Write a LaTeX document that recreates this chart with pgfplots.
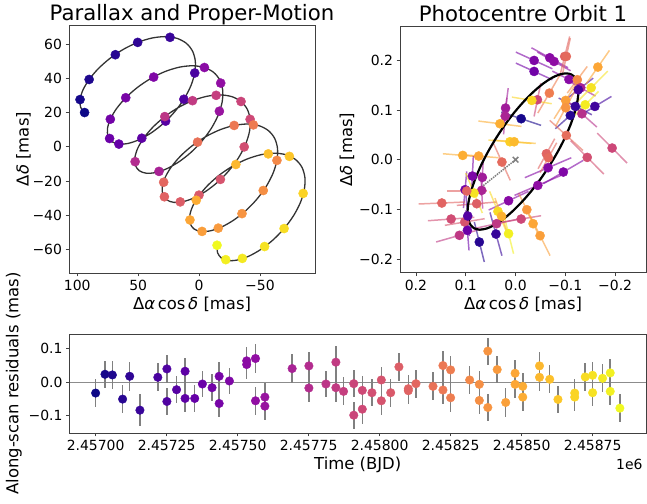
\documentclass[border=0pt]{standalone}
\usepackage{pgfplots}
\usepackage{pgfplotstable}
\pgfplotsset{compat=1.18}
\usepackage{fontspec}
\setmainfont{DejaVu Sans}

\pgfplotsset{
  colormap={plasma}{rgb255=(13,8,135) rgb255=(65,4,157) rgb255=(106,0,168) rgb255=(143,13,164) rgb255=(177,42,144) rgb255=(204,71,120) rgb255=(225,100,98) rgb255=(242,132,75) rgb255=(252,166,54) rgb255=(252,206,37) rgb255=(240,249,33)},
  myaxis/.style={scale only axis, anchor=south west,
    axis line style={black!75, line width=0.8pt},
    tick align=outside, tick pos=left, major tick length=3.5pt,
    every tick/.style={black!75, line width=0.8pt},
    tick label style={font=\fontsize{14}{16}\selectfont},
    label style={font=\fontsize{16.5}{19}\selectfont},
    title style={font=\fontsize{21.3}{25}\selectfont, anchor=base, yshift=-1pt},
    point meta min=0, point meta max=1846, colormap name=plasma,
    clip=true},
  dots/.style={scatter, only marks, mark=*, mark size=4.6pt,
    scatter/use mapped color={draw=mapped color, fill=mapped color}},
}

% parallax + proper motion model curve
\pgfplotstableread{
x y
94.01 20.03
97.24 23.11
97.73 27.59
95.37 33.14
90.26 39.32
82.70 45.65
73.13 51.66
62.13 56.90
50.40 60.95
38.67 63.49
27.68 64.32
18.10 63.30
10.54 60.47
5.43 55.97
3.08 50.07
3.56 43.10
6.79 35.52
12.47 27.77
20.18 20.34
29.30 13.68
39.15 8.21
49.00 4.25
58.13 2.02
65.83 1.62
71.51 3.03
74.74 6.11
75.23 10.59
72.87 16.14
67.76 22.32
60.20 28.65
50.63 34.66
39.63 39.90
27.90 43.95
16.17 46.49
5.18 47.32
-4.40 46.30
-11.96 43.47
-17.07 38.97
-19.42 33.07
-18.94 26.10
-15.71 18.52
-10.03 10.77
-2.32 3.34
6.80 -3.32
16.65 -8.79
26.50 -12.75
35.63 -14.98
43.33 -15.38
49.01 -13.97
52.24 -10.89
52.73 -6.41
50.37 -0.86
45.26 5.32
37.70 11.65
28.13 17.66
17.13 22.90
5.40 26.95
-6.33 29.49
-17.32 30.32
-26.90 29.30
-34.46 26.47
-39.57 21.97
-41.92 16.07
-41.44 9.10
-38.21 1.52
-32.53 -6.23
-24.82 -13.66
-15.70 -20.32
-5.85 -25.79
4.00 -29.75
13.13 -31.98
20.83 -32.38
26.51 -30.97
29.74 -27.89
30.23 -23.41
27.87 -17.86
22.76 -11.68
15.20 -5.35
5.63 0.66
-5.37 5.90
-17.10 9.95
-28.83 12.49
-39.82 13.32
-49.40 12.30
-56.96 9.47
-62.07 4.97
-64.42 -0.93
-63.94 -7.90
-60.71 -15.48
-55.03 -23.23
-47.32 -30.66
-38.20 -37.32
-28.35 -42.79
-18.50 -46.75
-9.37 -48.98
-1.67 -49.38
4.01 -47.97
7.24 -44.89
7.73 -40.41
5.37 -34.86
0.26 -28.68
-7.30 -22.35
-16.87 -16.34
-27.87 -11.10
-39.60 -7.05
-51.33 -4.51
-62.32 -3.68
-71.90 -4.70
-79.46 -7.53
-84.57 -12.03
-86.92 -17.93
-86.44 -24.90
-83.21 -32.48
-77.53 -40.23
-69.82 -47.66
-60.70 -54.32
-50.85 -59.79
-41.00 -63.75
-31.87 -65.98
-24.17 -66.38
-18.49 -64.97
-15.26 -61.89
-14.77 -57.41
}\pmcurve

\pgfplotstableread{
x y t
94.01 20.03 0
97.73 27.59 30
90.26 39.32 61
68.73 53.76 97
50.40 60.95 121
23.85 63.91 157
3.56 43.10 227
12.47 27.77 257
27.48 15.01 284
47.03 5.04 315
65.83 1.62 348
73.45 4.88 372
72.87 16.14 409
60.20 28.65 439
37.28 40.71 472
-4.40 46.30 530
-17.78 37.20 564
-16.68 20.79 601
32.89 -14.31 691
52.49 -8.65 749
28.13 17.66 817
5.40 26.95 847
-14.02 30.07 873
-34.46 26.47 908
-41.92 16.07 938
-37.07 -0.03 971
-17.52 -18.99 1011
0.06 -28.17 1038
15.44 -32.10 1064
28.45 -29.12 1098
29.05 -20.64 1127
1.23 2.76 1186
-28.83 12.49 1226
-44.61 12.81 1248
-63.94 -7.90 1316
-52.72 -25.46 1351
-35.25 -38.96 1381
-15.76 -47.42 1411
-2.44 -49.34 1436
7.49 -42.65 1475
2.30 -31.15 1507
-30.22 -10.29 1561
-56.83 -4.10 1596
-74.17 -5.55 1623
-85.47 -27.17 1684
-69.82 -47.66 1725
-53.81 -58.15 1751
-35.52 -65.09 1779
-21.90 -65.82 1806
-14.77 -57.41 1846
}\pmdots

% photocentre orbit model
\pgfplotstableread{
x y
0.0715 -0.1410
0.0823 -0.1386
0.0902 -0.1315
0.0949 -0.1199
0.0963 -0.1041
0.0942 -0.0847
0.0889 -0.0623
0.0804 -0.0374
0.0690 -0.0108
0.0550 0.0165
0.0389 0.0438
0.0212 0.0704
0.0024 0.0953
-0.0170 0.1177
-0.0363 0.1371
-0.0549 0.1529
-0.0723 0.1645
-0.0880 0.1716
-0.1015 0.1740
-0.1123 0.1716
-0.1202 0.1645
-0.1249 0.1529
-0.1263 0.1371
-0.1242 0.1177
-0.1189 0.0953
-0.1104 0.0704
-0.0990 0.0438
-0.0850 0.0165
-0.0689 -0.0108
-0.0512 -0.0374
-0.0324 -0.0623
-0.0130 -0.0847
0.0063 -0.1041
0.0249 -0.1199
0.0423 -0.1315
0.0580 -0.1386
0.0715 -0.1410
}\orbit

% orbit residual points: position, half along-scan segment, time
\pgfplotstableread{
x y hx hy t
-0.0373 0.2000 -0.0367 -0.0168 462
-0.0373 0.1779 -0.0367 -0.0168 406
-0.0687 0.2054 -0.0367 -0.0201 517
-0.0773 0.1980 -0.0333 -0.0188 554
-0.0987 0.2081 -0.0100 0.0403 1108
-0.1020 0.2081 -0.0080 0.0369 1145
-0.1073 0.1617 -0.0333 -0.0168 517
-0.1240 0.1611 -0.0200 0.0268 1329
-0.1307 0.1450 -0.0300 -0.0168 683
-0.1260 0.1409 -0.0300 0.0235 222
-0.1520 0.1450 -0.0333 0.0336 1754
-0.1653 0.1866 -0.0233 0.0336 1477
-0.1593 0.1074 -0.0333 0.0201 185
-0.1400 0.1107 -0.0267 0.0268 1791
-0.1200 0.1074 -0.0333 -0.0168 148
-0.1100 0.0893 -0.0300 0.0268 92
-0.1333 0.0926 -0.0300 -0.0268 775
-0.1007 0.1195 -0.0233 0.0369 1440
-0.1007 0.1047 -0.0200 0.0369 1385
-0.0680 0.1342 -0.0233 0.0403 1255
-0.0440 0.1208 -0.0067 0.0336 923
-0.0327 0.1195 -0.0400 -0.0067 1698
-0.0113 0.0826 -0.0400 -0.0134 37
0.0200 0.1040 -0.0053 0.0403 646
0.0207 0.0879 -0.0033 0.0369 701
0.0313 0.0725 -0.0433 -0.0054 1514
0.0113 0.0362 -0.0433 -0.0034 1661
0.0027 0.0362 -0.0433 -0.0034 1569
0.1060 0.0087 -0.0400 -0.0034 1514
0.0740 0.0074 -0.0400 -0.0034 1477
0.0273 -0.0047 -0.0167 -0.0369 1145
0.0867 -0.0329 -0.0020 0.0403 462
0.0667 -0.0356 -0.0020 0.0369 646
0.0680 -0.0617 -0.0020 -0.0369 701
0.1013 -0.0604 -0.0033 0.0369 406
0.0833 -0.0671 -0.0167 -0.0403 1754
0.0780 -0.0886 -0.0400 0.0034 1071
0.1480 -0.0872 -0.0467 0.0020 1108
0.1293 -0.1195 -0.0467 0.0034 960
0.1020 -0.1255 -0.0400 0.0067 1015
0.0960 -0.1134 -0.0033 -0.0403 277
0.0967 -0.1423 -0.0033 -0.0403 369
0.1127 -0.1523 -0.0467 0.0134 831
0.0727 -0.1658 -0.0100 -0.0403 92
0.0393 -0.1497 -0.0120 -0.0436 148
0.0140 -0.0826 -0.0400 0.0188 517
0.0353 -0.1040 -0.0167 -0.0403 1717
0.0280 -0.1141 -0.0133 -0.0369 1532
0.0140 -0.1490 -0.0100 -0.0403 1809
0.0380 -0.1289 -0.0467 0.0101 831
-0.0113 -0.1195 -0.0400 0.0067 923
-0.0227 -0.1007 -0.0167 -0.0336 1403
-0.0353 -0.1289 -0.0167 -0.0336 1477
-0.0493 -0.1530 -0.0200 -0.0403 1440
-0.0447 -0.0517 -0.0467 0.0201 554
-0.0653 -0.0161 -0.0467 0.0201 498
-0.0960 -0.0248 -0.0400 0.0235 480
-0.0620 0.0121 -0.0167 0.0302 1108
-0.0660 0.0040 -0.0167 0.0302 1145
-0.1020 0.0490 -0.0333 -0.0302 1163
-0.1440 0.0047 -0.0333 -0.0336 978
-0.1940 0.0235 -0.0300 -0.0302 923
0.0980 -0.0631 -0.0400 0.0000 1108
}\orbpts

% along-scan residuals: days after BJD 2457000, residual, error
\pgfplotstableread{
t v e
0 -0.032 0.041
33 0.024 0.041
59 0.022 0.042
95 -0.050 0.041
120 0.018 0.043
156 -0.083 0.048
219 0.015 0.042
251 0.040 0.041
251 -0.057 0.039
285 -0.022 0.041
315 0.033 0.040
315 -0.048 0.040
349 -0.048 0.041
376 -0.005 0.039
410 -0.016 0.040
435 0.018 0.042
435 -0.063 0.040
471 0.004 0.039
532 0.064 0.042
532 0.053 0.042
563 0.071 0.042
563 -0.055 0.041
596 -0.044 0.041
596 -0.071 0.041
692 0.041 0.042
751 0.049 0.041
751 -0.017 0.042
811 -0.005 0.039
846 0.060 0.047
846 -0.016 0.042
873 -0.027 0.042
909 -0.004 0.041
909 -0.098 0.040
939 -0.024 0.043
939 -0.080 0.043
973 -0.031 0.040
1006 0.007 0.039
1006 -0.055 0.041
1039 -0.031 0.042
1068 0.046 0.041
1101 -0.019 0.041
1101 -0.025 0.041
1128 -0.004 0.042
1188 -0.012 0.042
1223 0.050 0.044
1223 -0.023 0.042
1250 0.037 0.042
1250 -0.046 0.042
1317 0.007 0.042
1351 -0.006 0.041
1351 -0.054 0.041
1381 0.093 0.040
1381 -0.075 0.041
1414 0.038 0.040
1444 -0.060 0.042
1477 0.027 0.040
1477 -0.006 0.040
1504 -0.012 0.040
1504 -0.044 0.040
1563 0.049 0.041
1563 0.015 0.041
1599 0.009 0.042
1628 -0.051 0.041
1687 -0.032 0.041
1687 -0.044 0.041
1724 0.016 0.041
1750 0.021 0.040
1750 -0.031 0.041
1785 0.012 0.042
1812 0.028 0.042
1812 -0.027 0.042
1846 -0.077 0.042
}\resid

\begin{document}
\begin{tikzpicture}
\useasboundingbox (0,0) rectangle (647bp,504bp);

% ---------- Parallax and proper motion ----------
\begin{axis}[myaxis, at={(69bp,231bp)}, width=246bp, height=248bp,
  x dir=reverse, xmin=-95.2, xmax=106.8, ymin=-73.6, ymax=71.1,
  xtick={100,50,0,-50}, xticklabels={100,50,0,−50},
  ytick={-60,-40,-20,0,20,40,60}, yticklabels={−60,−40,−20,0,20,40,60},
  title={Parallax and Proper-Motion},
  xlabel={Δ\textit{α}\,cos\,\textit{δ} [mas]},
  ylabel={Δ\textit{δ} [mas]}, ylabel style={yshift=-5pt}]
\addplot[black!80, line width=1.3pt, smooth, mark=none] table[x=x, y=y] {\pmcurve};
\addplot[dots, point meta=\thisrow{t}] table[x=x, y=y] {\pmdots};
\end{axis}

% ---------- Photocentre orbit ----------
\begin{axis}[myaxis, at={(400bp,231.3bp)}, width=246bp, height=246bp,
  x dir=reverse, xmin=-0.262, xmax=0.232, ymin=-0.2276, ymax=0.268,
  xtick={-0.2,-0.1,0,0.1,0.2}, xticklabels={−0.2,−0.1,0.0,0.1,0.2},
  ytick={-0.2,-0.1,0,0.1,0.2}, yticklabels={−0.2,−0.1,0.0,0.1,0.2},
  title={Photocentre Orbit 1},
  xlabel={Δ\textit{α}\,cos\,\textit{δ} [mas]},
  ylabel={Δ\textit{δ} [mas]}, ylabel style={yshift=-2pt}]
\addplot[quiver={u=2*\thisrow{hx}, v=2*\thisrow{hy}, colored=mapped color},
  line width=1.5pt, opacity=0.6, point meta=\thisrow{t}]
  table[x expr=\thisrow{x}-\thisrow{hx}, y expr=\thisrow{y}-\thisrow{hy}] {\orbpts};
\addplot[black, line width=2.2pt, smooth, mark=none] table[x=x, y=y] {\orbit};
\addplot[gray, densely dotted, line width=1.5pt] coordinates {(0,0) (0.082,-0.066)};
\addplot[only marks, mark=x, mark size=4pt, gray, line width=1.5pt] coordinates {(0,0)};
\addplot[dots, point meta=\thisrow{t}] table[x=x, y=y] {\orbpts};
\end{axis}

% ---------- Along-scan residuals ----------
\begin{axis}[myaxis, at={(69.5bp,71bp)}, width=576.5bp, height=99bp,
  xmin=-92, xmax=1938, ymin=-0.151, ymax=0.144,
  xtick={0,250,500,750,1000,1250,1500,1750},
  xticklabels={2.45700,2.45725,2.45750,2.45775,2.45800,2.45825,2.45850,2.45875},
  ytick={-0.1,0,0.1}, yticklabels={−0.1,0.0,0.1},
  xlabel={Time (BJD)},
  ylabel={Along-scan residuals (mas)}]
\addplot[gray!90, line width=1.3pt, mark=none] coordinates {(-92,0) (1938,0)};
\addplot[only marks, mark=none, error bars/.cd, y dir=both, y explicit,
  error mark=none, error bar style={gray, line width=1.5pt}]
  table[x=t, y=v, y error=e] {\resid};
\addplot[dots, mark size=4.3pt, point meta=\thisrow{t}] table[x=t, y=v] {\resid};
\end{axis}
\node[anchor=east, font=\fontsize{14}{16}\selectfont] at (646bp,40bp) {1e6};
\end{tikzpicture}
\end{document}
